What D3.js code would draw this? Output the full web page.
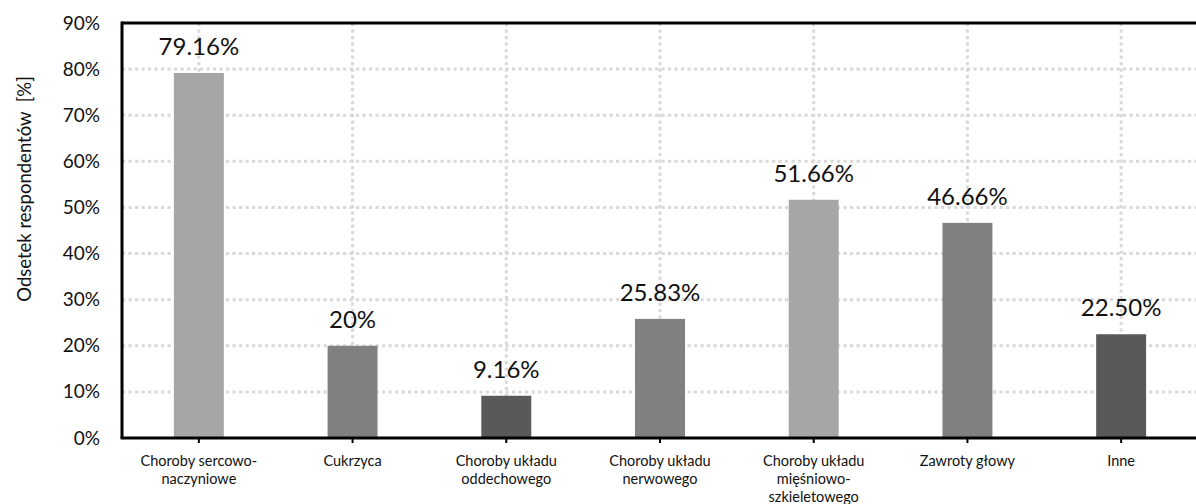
<!DOCTYPE html>
<html>
<head>
<meta charset="utf-8">
<script src="https://cdn.jsdelivr.net/npm/d3@7"></script>
<style>
  html, body { margin: 0; padding: 0; background: #fff; }
  svg { display: block; font-family: Lato, "Open Sans", sans-serif; }
</style>
</head>
<body>
<svg id="chart" width="1196" height="504"></svg>
<script>
// Health problems reported by respondents (share, %)
const categories = [
  ["Choroby sercowo-", "naczyniowe"],
  ["Cukrzyca"],
  ["Choroby układu", "oddechowego"],
  ["Choroby układu", "nerwowego"],
  ["Choroby układu", "mięśniowo-", "szkieletowego"],
  ["Zawroty głowy"],
  ["Inne"]
];
const values = [79.16, 20, 9.16, 25.83, 51.66, 46.66, 22.50];
const valueLabels = ["79.16%", "20%", "9.16%", "25.83%", "51.66%", "46.66%", "22.50%"];
const barShades = ["#a6a6a6", "#808080", "#595959", "#808080", "#a6a6a6", "#808080", "#595959"];
const yTicks = [0, 10, 20, 30, 40, 50, 60, 70, 80, 90];
const yTitle = "Odsetek respondentów  [%]";

const svg = d3.select("#chart");
const plotLeft = 122, plotTop = 23, plotRight = 1198, plotBottom = 438;

const keys = categories.map((c, i) => i);
const x = d3.scaleBand().domain(keys).range([plotLeft, plotRight]).paddingInner(0.675).paddingOuter(0.3375);
const y = d3.scaleLinear().domain([0, 90]).range([plotBottom, plotTop]);
const cx = i => x(i) + x.bandwidth() / 2;

const grid = svg.append("g")
  .attr("stroke", "#d9d9d9")
  .attr("stroke-width", 3)
  .attr("stroke-dasharray", "3.2,3.3");

// horizontal dotted gridlines
grid.selectAll("line.h")
  .data(yTicks.filter(t => t > 0 && t < 90))
  .join("line")
  .attr("class", "h")
  .attr("x1", plotLeft).attr("x2", plotRight)
  .attr("y1", d => y(d)).attr("y2", d => y(d));

// vertical dotted gridlines through category centres
grid.selectAll("line.v")
  .data(keys)
  .join("line")
  .attr("class", "v")
  .attr("x1", d => cx(d)).attr("x2", d => cx(d))
  .attr("y1", plotTop).attr("y2", plotBottom);

// bars
svg.append("g").selectAll("rect")
  .data(values)
  .join("rect")
  .attr("x", (d, i) => x(i))
  .attr("width", x.bandwidth())
  .attr("y", d => y(d))
  .attr("height", d => plotBottom - y(d))
  .attr("fill", (d, i) => barShades[i]);

// value labels
svg.append("g").selectAll("text")
  .data(values)
  .join("text")
  .attr("x", (d, i) => cx(i))
  .attr("y", d => y(d) - 18)
  .attr("text-anchor", "middle")
  .attr("font-size", 24)
  .attr("fill", "#111")
  .text((d, i) => valueLabels[i]);

// frame: top and left borders
svg.append("line")
  .attr("x1", plotLeft).attr("x2", plotRight).attr("y1", plotTop).attr("y2", plotTop)
  .attr("stroke", "#000").attr("stroke-width", 3);
svg.append("line")
  .attr("x1", plotLeft).attr("x2", plotLeft).attr("y1", plotTop - 1.5).attr("y2", plotBottom)
  .attr("stroke", "#000").attr("stroke-width", 3);

// y axis tick labels
const yAxis = d3.axisLeft(y).tickValues(yTicks).tickFormat(d => d + "%").tickSize(0).tickPadding(22);
const yg = svg.append("g").attr("transform", `translate(${plotLeft},0)`).call(yAxis);
yg.select(".domain").remove();
yg.selectAll("text").attr("font-size", 19).attr("font-family", "Lato, sans-serif").attr("fill", "#111");

// x axis with small ticks at category centres
const xAxis = d3.axisBottom(x).tickSize(5).tickFormat("");
const xg = svg.append("g").attr("transform", `translate(0,${plotBottom})`).call(xAxis);
xg.select(".domain").attr("stroke", "#000").attr("stroke-width", 3)
  .attr("d", `M${plotLeft - 1.5},0H${plotRight}`);
xg.selectAll(".tick line").attr("stroke", "#000").attr("stroke-width", 2);

// multi-line category labels
const catG = svg.append("g").attr("font-size", 14.5).attr("fill", "#111").attr("text-anchor", "middle");
categories.forEach((lines, i) => {
  const t = catG.append("text").attr("x", cx(i)).attr("y", 466);
  lines.forEach((ln, j) => {
    t.append("tspan").attr("x", cx(i)).attr("dy", j === 0 ? 0 : 18).text(ln);
  });
});

// y axis title
svg.append("text")
  .attr("transform", "translate(31,189) rotate(-90)")
  .attr("text-anchor", "middle")
  .attr("font-size", 18.5)
  .attr("fill", "#111")
  .style("white-space", "pre")
  .text(yTitle);
</script>
</body>
</html>
